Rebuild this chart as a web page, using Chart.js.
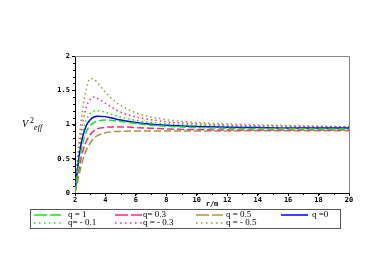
<!DOCTYPE html>
<html>
<head>
<meta charset="utf-8">
<script src="https://cdn.jsdelivr.net/npm/chart.js"></script>
<style>
    body { margin: 0; background: #fff; }
    #wrap { position: relative; width: 382px; height: 273px; }
    #ylab { position: absolute; left: 22px; top: 116px; font-family: 'Liberation Serif', serif; font-size: 10px; color: #000; }
    #legend { position: absolute; left: 30px; top: 209px; width: 309px; height: 18px; border: 1px solid #555;
              font-family: 'Liberation Serif', serif; font-size: 9px; color: #000; }
    .item { position: absolute; height: 9px; line-height: 9px; white-space: nowrap; }
    .sw { position: absolute; }
</style>
</head>
<body>
<div id="wrap">
    <canvas id="myChart" width="382" height="273"></canvas>
    <div id="ylab"><i>V</i><sup style="font-size:8px"> 2</sup><sub style="font-size:8px"><i>eff</i></sub></div>
    <div id="legend"></div>
</div>
<script>

    const r = [2, 2.1, 2.2, 2.35, 2.5, 2.75, 3, 3.25, 3.5, 4, 4.5, 5, 6, 7, 8, 10, 12, 14, 16, 18, 20];

    const q1    = [0, 0.18, 0.34, 0.55, 0.72, 0.9, 0.98, 1.03, 1.05, 1.065, 1.06, 1.045, 1.015, 0.99, 0.975, 0.955, 0.945, 0.94, 0.94, 0.935, 0.935];
    const q03   = [0, 0.14, 0.27, 0.45, 0.6, 0.76, 0.85, 0.91, 0.94, 0.96, 0.965, 0.965, 0.955, 0.945, 0.935, 0.925, 0.92, 0.92, 0.92, 0.92, 0.92];
    const q05   = [0, 0.1, 0.2, 0.34, 0.47, 0.63, 0.73, 0.8, 0.84, 0.88, 0.895, 0.9, 0.905, 0.905, 0.905, 0.905, 0.905, 0.91, 0.91, 0.91, 0.91];
    const q0    = [0, 0.22, 0.41, 0.65, 0.82, 0.99, 1.07, 1.11, 1.12, 1.115, 1.09, 1.065, 1.03, 1.005, 0.99, 0.97, 0.96, 0.955, 0.95, 0.95, 0.95];
    const qm01  = [0, 0.24, 0.44, 0.7, 0.88, 1.07, 1.16, 1.195, 1.2, 1.18, 1.14, 1.11, 1.06, 1.03, 1.01, 0.99, 0.975, 0.965, 0.96, 0.955, 0.955];
    const qm03  = [0, 0.27, 0.5, 0.8, 1.02, 1.26, 1.37, 1.4, 1.38, 1.31, 1.24, 1.18, 1.11, 1.07, 1.04, 1.01, 0.99, 0.98, 0.975, 0.97, 0.965];
    const qm05  = [0, 0.32, 0.6, 0.95, 1.22, 1.52, 1.67, 1.66, 1.6, 1.47, 1.36, 1.28, 1.17, 1.11, 1.07, 1.03, 1.01, 0.995, 0.985, 0.975, 0.97];

    const xTicks = [2, 4, 6, 8, 10, 12, 14, 16, 18, 20];
    const yTicks = [0, 0.5, 1, 1.5, 2];

    const GREEN = 'rgb(20,230,20)';
    const PINK = 'rgb(255,40,130)';
    const OLIVE = 'rgb(165,150,60)';
    const BLUE = 'rgb(0,0,255)';

    // x = swatch left, tx = text left (relative to legend box)
    const series = [
        { label: 'q = 1', data: q1, color: GREEN, dash: [7, 3], legDash: '13 3', x: 3, y: 0, tx: 37 },
        { label: 'q= 0.3', data: q03, color: PINK, dash: [7, 3], legDash: '13 3', x: 84, y: 0, tx: 112 },
        { label: 'q = 0.5', data: q05, color: OLIVE, dash: [7, 3], legDash: '13 3', x: 165, y: 0, tx: 195 },
        { label: 'q =0', data: q0, color: BLUE, dash: [], legDash: '', x: 250, y: 0, tx: 281 },
        { label: 'q= - 0.1', data: qm01, color: GREEN, dash: [1.5, 3], legDash: '1.5 3.5', x: 3, y: 8, tx: 37 },
        { label: 'q = - 0.3', data: qm03, color: PINK, dash: [1.5, 3], legDash: '1.5 3.5', x: 84, y: 8, tx: 112 },
        { label: 'q = - 0.5', data: qm05, color: OLIVE, dash: [1.5, 3], legDash: '1.5 3.5', x: 165, y: 8, tx: 195 }
    ];

    // legend in html
    const legend = document.getElementById('legend');
    series.forEach(s => {
        const w = 27;
        const sw = document.createElementNS('http://www.w3.org/2000/svg', 'svg');
        sw.setAttribute('class', 'sw');
        sw.setAttribute('width', w);
        sw.setAttribute('height', 4);
        sw.style.left = s.x + 'px';
        sw.style.top = (s.y + 3) + 'px';
        const ln = document.createElementNS('http://www.w3.org/2000/svg', 'line');
        ln.setAttribute('x1', 0); ln.setAttribute('x2', w);
        ln.setAttribute('y1', 2); ln.setAttribute('y2', 2);
        ln.setAttribute('stroke', s.color);
        ln.setAttribute('stroke-width', 1.5);
        if (s.legDash) ln.setAttribute('stroke-dasharray', s.legDash);
        sw.appendChild(ln);
        legend.appendChild(sw);
        const t = document.createElement('div');
        t.className = 'item';
        t.style.left = s.tx + 'px';
        t.style.top = s.y + 'px';
        t.textContent = s.label;
        legend.appendChild(t);
    });

    const framePlugin = {
        id: 'frame',
        afterDraw(chart) {
            const { ctx, chartArea: a } = chart;
            ctx.save();
            ctx.strokeStyle = '#888';
            ctx.lineWidth = 1;
            ctx.beginPath();
            ctx.moveTo(a.left, a.top + 0.5);
            ctx.lineTo(a.right + 0.5, a.top + 0.5);
            ctx.lineTo(a.right + 0.5, a.bottom);
            ctx.stroke();
            // minor ticks
            ctx.strokeStyle = '#000';
            const xs = chart.scales.x, ys = chart.scales.y;
            ctx.beginPath();
            for (let v = 0; v <= 2.0001; v += 0.1) {
                const py = Math.round(ys.getPixelForValue(v)) + 0.5;
                ctx.moveTo(a.left - 2, py);
                ctx.lineTo(a.left, py);
            }
            for (let v = 2; v <= 20.0001; v += 1) {
                const px = Math.round(xs.getPixelForValue(v)) + 0.5;
                ctx.moveTo(px, a.bottom);
                ctx.lineTo(px, a.bottom + 2);
            }
            ctx.stroke();
            ctx.restore();
        }
    };

    const ctx = document.getElementById('myChart');
    const tickFont = { family: 'DejaVu Sans Mono', size: 7, weight: 'bold' };

    new Chart(ctx, {
        type: 'line',
        data: {
            datasets: series.map(s => ({
                label: s.label,
                data: r.map((x, i) => ({ x: x, y: s.data[i] })),
                borderColor: s.color,
                borderDash: s.dash,
                borderWidth: 1.5,
                pointRadius: 0,
                fill: false,
                cubicInterpolationMode: 'monotone'
            }))
        },
        options: {
            responsive: false,
            animation: false,
            layout: { padding: { top: 56, right: 33, bottom: 65, left: 0 } },
            plugins: { legend: { display: false }, tooltip: { enabled: false } },
            scales: {
                x: {
                    type: 'linear', min: 2, max: 20,
                    afterBuildTicks: s => { s.ticks = xTicks.map(v => ({ value: v })); },
                    afterFit: s => { s.height = 15; },
                    border: { color: '#000', width: 1 },
                    grid: { drawOnChartArea: false, tickLength: 3, color: '#000' },
                    ticks: { font: tickFont, color: '#000', padding: 0, maxRotation: 0, callback: v => String(v) },
                    title: { display: true, text: 'r/m', font: tickFont, color: '#000', padding: 0 }
                },
                y: {
                    type: 'linear', min: 0, max: 2,
                    afterBuildTicks: s => { s.ticks = yTicks.map(v => ({ value: v })); },
                    afterFit: s => { s.width = 75; },
                    border: { color: '#000', width: 1 },
                    grid: { drawOnChartArea: false, tickLength: 3, color: '#000' },
                    ticks: { font: tickFont, color: '#000', padding: 2, callback: v => String(v) }
                }
            }
        },
        plugins: [framePlugin]
    });

</script>
</body>
</html>
